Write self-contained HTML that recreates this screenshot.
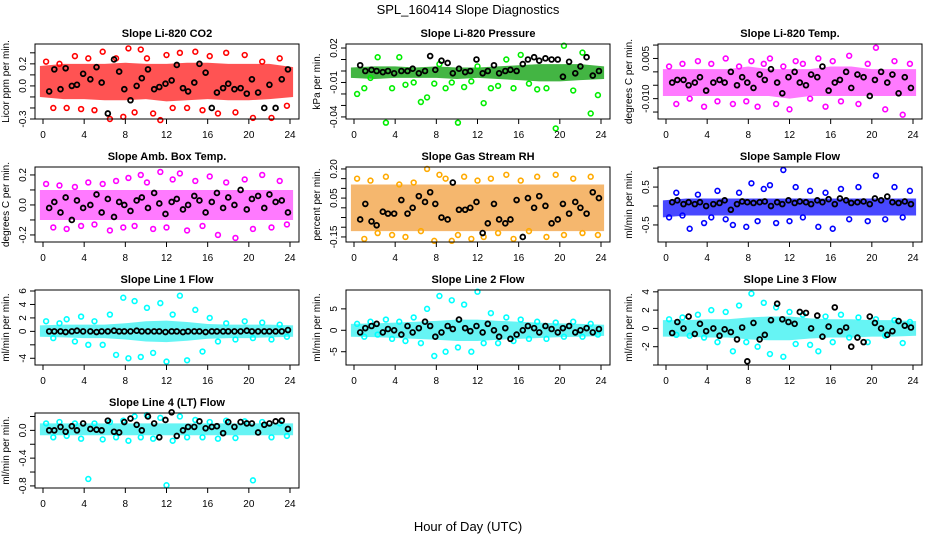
<!DOCTYPE html>
<html><head><meta charset="utf-8">
<style>
body{margin:0;background:#fff;}
svg{display:block;font-family:"Liberation Sans",Arial,sans-serif;}
</style></head>
<body>
<svg id="chart" width="936" height="540" viewBox="0 0 936 540" xmlns="http://www.w3.org/2000/svg">
<rect width="936" height="540" fill="#fff"/>
<text x="468" y="14" text-anchor="middle" font-size="13">SPL_160414  Slope Diagnostics</text>
<text x="468" y="531" text-anchor="middle" font-size="13">Hour of Day (UTC)</text>
<g id="panels"></g>
</svg>
<script>
const xTicks=[0,4,8,12,16,20,24];
const bandHours=[0,2,4,6,8,10,12,14,16,18,20,22,24];
const blkHours=[0.6,1.1,1.7,2.2,2.8,3.3,3.9,4.6,5.2,5.7,6.3,6.9,7.4,7.9,8.5,9.1,9.6,10.2,10.8,11.3,11.9,12.5,13.0,13.6,14.1,14.7,15.2,15.8,16.4,16.9,17.5,18.0,18.6,19.2,19.8,20.3,20.9,21.5,22.0,22.6,23.2,23.8];
const ptHours=[0.3,1.0,1.6,2.3,3.1,3.7,4.4,5.0,5.8,6.5,7.1,7.8,8.3,8.9,9.5,10.1,10.7,11.4,12.0,12.6,13.3,14.0,14.8,15.5,16.2,17.0,17.8,18.7,19.6,20.4,21.3,22.2,23.0,23.7];

const co2Blk=[-0.05,0.15,-0.03,0.16,0.0,0.01,0.11,0.06,0.17,0.03,-0.25,0.24,0.13,-0.03,-0.13,0.0,0.07,0.15,-0.03,-0.01,0.02,0.05,0.19,-0.02,-0.05,0.03,0.2,0.12,-0.2,-0.06,-0.02,0.02,-0.03,-0.02,-0.07,0.06,-0.06,-0.2,0.01,-0.2,0.06,0.15];
const co2Pts=[0.22,-0.2,0.2,-0.2,0.27,-0.21,0.25,-0.22,0.31,-0.3,0.25,-0.28,0.34,-0.24,0.33,0.25,-0.25,-0.31,0.28,-0.2,0.3,-0.2,0.31,-0.22,0.27,-0.25,0.3,-0.24,0.28,-0.29,0.22,-0.29,0.25,-0.18];
const co2Lo=[-0.1,-0.12,-0.12,-0.13,-0.13,-0.12,-0.14,-0.13,-0.12,-0.13,-0.13,-0.12,-0.1];
const co2Hi=[0.18,0.2,0.2,0.2,0.21,0.2,0.2,0.21,0.21,0.2,0.2,0.2,0.17];

const presBlk=[0.005,0.0,0.001,0.0,-0.001,0.0,-0.002,0.0,0.0,0.002,-0.002,0.0,0.013,0.001,0.009,0.007,-0.002,0.002,-0.001,0.0,0.01,-0.002,0.0,0.005,-0.002,0.0,0.001,0.0,0.006,0.01,0.012,0.009,0.011,0.01,0.01,-0.005,0.008,-0.002,0.004,0.012,-0.004,0.0];
const presPts=[-0.02,-0.015,-0.006,0.012,-0.045,-0.015,0.012,-0.012,-0.01,-0.027,-0.023,-0.011,0.006,-0.015,-0.01,-0.045,-0.014,-0.009,0.004,-0.028,-0.015,-0.013,0.01,-0.015,0.014,-0.011,-0.016,-0.015,-0.05,0.022,-0.017,0.016,-0.037,-0.021];
const presLo=[-0.006,-0.007,-0.006,-0.006,-0.006,-0.007,-0.006,-0.007,-0.008,-0.009,-0.009,-0.008,-0.007];
const presHi=[0.003,0.004,0.004,0.003,0.004,0.003,0.003,0.004,0.005,0.006,0.006,0.006,0.004];

const tempBlk=[-0.004,-0.003,-0.003,-0.005,-0.004,-0.002,-0.007,-0.004,-0.003,-0.004,0.0,-0.005,-0.002,-0.004,-0.006,-0.001,-0.003,0.001,-0.004,-0.008,-0.002,0.0,-0.004,-0.005,-0.001,-0.002,0.002,-0.007,-0.004,-0.003,0.0,-0.006,-0.001,-0.002,-0.009,-0.003,0.0,-0.004,-0.001,-0.008,-0.002,-0.006];
const tempPts=[0.002,-0.012,0.003,-0.01,0.004,-0.013,0.003,-0.011,0.005,-0.012,0.002,-0.011,0.004,-0.013,0.003,0.005,-0.012,0.002,-0.014,0.004,0.003,-0.01,0.005,-0.013,0.004,-0.011,0.006,-0.012,0.003,0.009,-0.014,0.004,-0.016,0.003];
const tempLo=[-0.009,-0.009,-0.009,-0.009,-0.009,-0.009,-0.01,-0.009,-0.009,-0.009,-0.009,-0.009,-0.009];
const tempHi=[0.001,0.001,0.001,0.001,0.002,0.001,0.001,0.001,0.002,0.002,0.001,0.001,0.001];

const ambBlk=[-0.02,0.02,-0.05,0.05,-0.1,0.03,-0.02,0.0,0.07,-0.05,0.04,-0.08,0.02,0.0,-0.04,0.03,0.05,-0.02,0.08,0.01,-0.06,0.02,0.04,-0.03,0.0,0.06,0.03,-0.05,0.02,0.08,-0.02,0.05,0.0,0.1,-0.03,0.04,0.06,-0.02,0.07,0.02,0.03,-0.05];
const ambPts=[0.14,-0.15,0.13,-0.16,0.12,-0.14,0.15,-0.13,0.14,-0.17,0.16,-0.15,0.18,-0.14,0.2,0.15,-0.16,0.22,-0.15,0.17,0.21,-0.17,0.16,-0.14,0.19,-0.2,0.15,-0.22,0.17,-0.16,0.2,-0.15,0.16,-0.13];
const ambLo=[-0.1,-0.1,-0.1,-0.1,-0.1,-0.1,-0.1,-0.1,-0.1,-0.1,-0.1,-0.1,-0.1];
const ambHi=[0.1,0.1,0.1,0.1,0.1,0.1,0.1,0.1,0.1,0.1,0.1,0.1,0.1];

const rhBlk=[-0.06,0.02,-0.07,-0.09,-0.02,-0.03,-0.03,0.04,-0.03,0.0,0.06,0.03,0.08,0.02,-0.05,-0.06,0.13,-0.01,-0.01,0.0,0.03,-0.13,-0.08,0.02,-0.06,-0.08,-0.06,0.04,-0.15,0.05,0.0,0.06,0.01,-0.08,-0.06,0.02,-0.03,0.03,0.0,-0.03,0.08,0.05];
const rhPts=[0.15,-0.16,0.14,-0.13,0.16,-0.14,0.12,-0.15,0.13,-0.12,0.2,-0.17,0.17,0.15,-0.17,-0.14,0.16,-0.16,0.14,-0.15,0.15,-0.13,0.17,-0.16,0.14,-0.12,0.16,-0.15,0.17,-0.14,0.15,-0.13,0.16,-0.14];
const rhLo=[-0.12,-0.12,-0.12,-0.12,-0.12,-0.12,-0.12,-0.12,-0.12,-0.12,-0.12,-0.12,-0.12];
const rhHi=[0.12,0.12,0.12,0.12,0.12,0.12,0.12,0.12,0.12,0.12,0.12,0.12,0.12];

const flowBlk=[0.1,0.15,0.05,0.1,0.05,0.1,0.0,0.05,0.08,0.15,-0.1,0.05,0.12,0.1,0.08,0.1,0.12,0.0,0.1,0.05,0.15,0.08,0.12,0.1,0.05,0.15,0.1,0.18,0.05,0.2,0.15,0.08,0.1,0.12,0.05,0.2,0.15,0.25,0.1,0.08,0.12,0.05];
const flowPts=[-0.3,0.35,-0.25,-0.6,0.3,-0.45,-0.3,0.4,-0.35,-0.5,0.35,-0.55,0.6,-0.4,0.45,0.55,-0.45,0.95,-0.4,0.5,-0.3,0.4,-0.55,0.35,-0.6,0.45,-0.35,0.5,-0.4,0.8,-0.35,0.5,-0.3,0.4];
const flowLo=[-0.3,-0.25,-0.25,-0.25,-0.25,-0.25,-0.25,-0.25,-0.25,-0.25,-0.25,-0.25,-0.25];
const flowHi=[0.15,0.2,0.2,0.2,0.2,0.2,0.2,0.2,0.2,0.2,0.2,0.2,0.2];

const l1Blk=[0,0,0,-0.1,0,0.1,0,0,-0.1,0,0,0.1,0,0,0,0.1,0,0,0,0,-0.1,0,0,-0.1,0,0,0,-0.1,0,0,0,0,0,0,0.1,0,0,0,0,0,0,0.2];
const l1Pts=[1.5,-1,1.2,1.8,-1.5,2.2,-2,1.5,-2,2.5,-3.5,5.0,-4,4.5,-3.8,3.5,-3.2,4.2,-4.5,2.5,5.3,-4.3,3.2,-3,2.0,-1.5,1.2,-1.2,1.5,-1.0,1.3,-1.2,1.0,-0.8];
const l1Lo=[-0.8,-0.9,-1,-1,-1.2,-1.5,-1.6,-1.4,-1.1,-1,-1,-0.9,-0.8];
const l1Hi=[0.9,1,1,1,1.2,1.5,1.6,1.4,1.1,1,1,1,0.9];

const l2Blk=[-0.5,0.5,1,1.5,-0.5,0.3,0,-1,1,-0.5,0.5,2,1,-1.5,-0.5,1,0.3,2.5,0.5,-0.2,1,-0.5,1.5,0,-1.5,0.5,-2,-1,0,1,0.5,-0.5,1,0.3,-0.5,0.5,1,-0.5,0,0.5,-0.5,0.3];
const l2Pts=[1.5,-1.5,2,-1,2.5,-2,2,-2.5,3,-3,5,-6,8,-5,7,-4,6,-5,9,-3,4,-3,3,-2.5,2.5,-2,2,-2,1.8,-1.5,2,-1.5,1.5,-1];
const l2Lo=[-1.5,-1.6,-1.8,-2,-2.2,-2.5,-2.5,-2.2,-2,-1.8,-1.6,-1.5,-1.3];
const l2Hi=[1.5,1.6,1.8,2,2.2,2.5,2.5,2.2,2,1.8,1.6,1.5,1.3];

const l3Blk=[-0.5,0.7,0,1.3,-0.6,0.5,-0.3,0,-0.8,-0.1,-0.4,-1.2,0.1,-3.6,0.6,-1.2,-0.7,0.9,2.7,1,0.7,0.5,1.8,1.7,0,1.4,-0.9,0.2,2.3,-0.3,0.1,-2,-1,-1.5,1.3,0.6,0,-0.7,-0.3,0.8,0.3,0.1];
const l3Pts=[1,-0.7,1.2,-0.8,1.5,-1,2,-1.5,1.8,-2.5,2.5,-1.5,3.8,-2,2.8,-2.8,2.3,-3.1,1.8,-1.7,1.5,-1.8,-2.5,1.3,-1.5,1.5,-1,1.2,-1.5,1,-0.8,0.9,-1.6,0.7];
const l3Lo=[-0.9,-0.9,-1,-1,-1.2,-1.3,-1.3,-1.1,-1,-1,-0.9,-0.9,-0.8];
const l3Hi=[0.9,0.9,1,1,1.2,1.3,1.3,1.1,1,1,0.9,0.9,0.8];

const l4Blk=[0.0,0.0,0.05,-0.02,0.06,0.0,0.1,0.02,0.01,0.0,0.14,-0.02,-0.03,0.12,0.17,0.08,0.0,0.2,0.1,-0.1,0.15,0.26,-0.08,0.0,0.05,0.05,0.13,0.03,0.05,0.06,-0.04,0.12,0.05,0.12,0.1,0.1,-0.03,0.08,0.1,0.13,0.14,0.02];
const l4Pts=[0.1,-0.1,0.12,-0.08,0.1,-0.12,-0.7,0.1,-0.13,0.12,-0.1,0.14,-0.15,0.2,-0.1,0.22,-0.12,0.18,-0.79,-0.15,0.2,-0.1,0.15,-0.1,0.12,-0.12,0.14,-0.11,0.13,-0.72,0.12,-0.1,0.1,-0.08];
const l4Lo=[-0.07,-0.07,-0.07,-0.07,-0.07,-0.07,-0.07,-0.07,-0.07,-0.07,-0.07,-0.07,-0.07];
const l4Hi=[0.1,0.1,0.1,0.1,0.1,0.1,0.1,0.1,0.1,0.1,0.1,0.1,0.1];

const co2Ticks=[0.3,0.2,0.1,0.0,-0.1,-0.2,-0.3], co2Labels=["","0.2","","0.0","","","-0.3"];
const presTicks=[0.02,0.01,0.0,-0.01,-0.02,-0.03,-0.04], presLabels=["0.02","","","-0.01","","","-0.04"];
const tempTicks=[0.010,0.005,0.0,-0.005,-0.010,-0.015], tempLabels=["","0.005","","","-0.010",""];
const ambTicks=[0.2,0.1,0.0,-0.1,-0.2], ambLabels=["0.2","","0.0","","-0.2"];
const rhTicks=[0.20,0.15,0.10,0.05,0.0,-0.05,-0.10,-0.15], rhLabels=["0.20","","","0.05","","","","-0.15"];
const flowTicks=[1.0,0.5,0.0,-0.5], flowLabels=["","0.5","","-0.5"];
const l1Ticks=[6,4,2,0,-2,-4], l1Labels=["6","4","2","0","","-4"];
const l2Ticks=[5,0,-5], l2Labels=["5","0","-5"];
const l3Ticks=[4,2,0,-2,-4], l3Labels=["4","2","0","-2",""];
const l4Ticks=[0.2,0.0,-0.2,-0.4,-0.6,-0.8], l4Labels=["","0.0","","-0.4","","-0.8"];

const panels=[
 {name:"co2",title:"Slope Li-820 CO2",yt:"Licor ppm per min.",col:0,row:0,ylim:[-0.3,0.38],color:"#ff0000",band:"#ff1a1a",op:0.75,blk:co2Blk,pts:co2Pts,lo:co2Lo,hi:co2Hi,ticks:co2Ticks,labels:co2Labels},
 {name:"pressure",title:"Slope Li-820 Pressure",yt:"kPa per min.",col:1,row:0,ylim:[-0.0418,0.0235],color:"#00ee00",band:"#22a822",op:0.85,blk:presBlk,pts:presPts,lo:presLo,hi:presHi,ticks:presTicks,labels:presLabels},
 {name:"temp",title:"Slope Li-820 Temp.",yt:"degrees C per min.",col:2,row:0,ylim:[-0.0176,0.0104],color:"#ff00ff",band:"#ff33ff",op:0.65,blk:tempBlk,pts:tempPts,lo:tempLo,hi:tempHi,ticks:tempTicks,labels:tempLabels},
 {name:"amb-box-temp",title:"Slope Amb. Box Temp.",yt:"degrees C per min.",col:0,row:1,ylim:[-0.247,0.253],color:"#ff00ff",band:"#ff33ff",op:0.65,blk:ambBlk,pts:ambPts,lo:ambLo,hi:ambHi,ticks:ambTicks,labels:ambLabels},
 {name:"gas-stream-rh",title:"Slope Gas Stream RH",yt:"percent per min.",col:1,row:1,ylim:[-0.176,0.21],color:"#ffaa00",band:"#f09020",op:0.65,blk:rhBlk,pts:rhPts,lo:rhLo,hi:rhHi,ticks:rhTicks,labels:rhLabels},
 {name:"sample-flow",title:"Slope Sample Flow",yt:"ml/min per min.",col:2,row:1,ylim:[-0.95,1.03],color:"#0000ff",band:"#1a1aff",op:0.8,blk:flowBlk,pts:flowPts,lo:flowLo,hi:flowHi,ticks:flowTicks,labels:flowLabels},
 {name:"line1-flow",title:"Slope Line 1 Flow",yt:"ml/min per min.",col:0,row:2,ylim:[-5.0,6.15],color:"#00ffff",band:"#33f0f0",op:0.75,blk:l1Blk,pts:l1Pts,lo:l1Lo,hi:l1Hi,ticks:l1Ticks,labels:l1Labels},
 {name:"line2-flow",title:"Slope Line 2 Flow",yt:"ml/min per min.",col:1,row:2,ylim:[-8.1,9.4],color:"#00ffff",band:"#33f0f0",op:0.75,blk:l2Blk,pts:l2Pts,lo:l2Lo,hi:l2Hi,ticks:l2Ticks,labels:l2Labels},
 {name:"line3-flow",title:"Slope Line 3 Flow",yt:"ml/min per min.",col:2,row:2,ylim:[-4.0,4.2],color:"#00ffff",band:"#33f0f0",op:0.75,blk:l3Blk,pts:l3Pts,lo:l3Lo,hi:l3Hi,ticks:l3Ticks,labels:l3Labels},
 {name:"line4-flow",title:"Slope Line 4 (LT) Flow",yt:"ml/min per min.",col:0,row:3,ylim:[-0.83,0.25],color:"#00ffff",band:"#33f0f0",op:0.75,blk:l4Blk,pts:l4Pts,lo:l4Lo,hi:l4Hi,ticks:l4Ticks,labels:l4Labels}
];

const NS="http://www.w3.org/2000/svg";
const root=document.getElementById('panels');
const colLeft=[35,346,658], W=264, H=75;
function mk(tag,attrs,parent){const e=document.createElementNS(NS,tag);for(const k in attrs)e.setAttribute(k,attrs[k]);parent.appendChild(e);return e;}

panels.forEach(p=>{
  const L=colLeft[p.col], T=44+123*p.row, B=T+H, R=L+W;
  const x=h=>L+8+h*(247/24);
  const y=v=>B-(v-p.ylim[0])/(p.ylim[1]-p.ylim[0])*H;
  const g=mk('g',{},root);
  
  
  const t=mk('text',{x:(L+R)/2,y:T-7,'text-anchor':'middle','font-size':'11','font-weight':'bold'},g);
  t.textContent=p.title;
  
  
  const clip=mk('g',{},g);
  let pts=[];
  bandHours.forEach((h,i)=>pts.push(x(h===0?-0.3:h===24?24.3:h)+','+y(p.hi[i])));
  for(let i=bandHours.length-1;i>=0;i--){const h=bandHours[i];pts.push(x(h===0?-0.3:h===24?24.3:h)+','+y(p.lo[i]));}
  const band=mk('polygon',{points:pts.join(' '),fill:p.band,'fill-opacity':p.op},clip);
  
  
  p.pts.forEach((v,i)=>{
    const c=mk('circle',{cx:x(ptHours[i]),cy:y(v),r:2.4,fill:'none',stroke:p.color,'stroke-width':1.6},clip);
    
    
  });
  p.blk.forEach((v,i)=>{
    const c=mk('circle',{cx:x(blkHours[i]),cy:y(v),r:2.4,fill:'none',stroke:'#000','stroke-width':1.8},clip);
    
    
  });
  const box=mk('rect',{x:L,y:T,width:W,height:H,fill:'none',stroke:'#000','stroke-width':1},g);
  
  
  xTicks.forEach(h=>{
    mk('line',{x1:x(h),x2:x(h),y1:B,y2:B+5,stroke:'#000','stroke-width':1},g);
    const tl=mk('text',{x:x(h),y:B+19,'text-anchor':'middle','font-size':'10'},g);
    tl.textContent=h;
    
    
  });
  p.ticks.forEach((v,i)=>{
    const yy=y(v);
    mk('line',{x1:L-5,x2:L,y1:yy,y2:yy,stroke:'#000','stroke-width':1},g);
    if(p.labels[i]){
      const tl=mk('text',{x:L-9,y:yy,'text-anchor':'middle','font-size':'10',transform:'rotate(-90 '+(L-9)+' '+yy+')'},g);
      tl.textContent=p.labels[i];
      
      
    }
  });
  const yt=mk('text',{x:L-26,y:(T+B)/2,'text-anchor':'middle','font-size':'10',transform:'rotate(-90 '+(L-26)+' '+((T+B)/2)+')'},g);
  yt.textContent=p.yt;
  
  
});
</script>
</body></html>
